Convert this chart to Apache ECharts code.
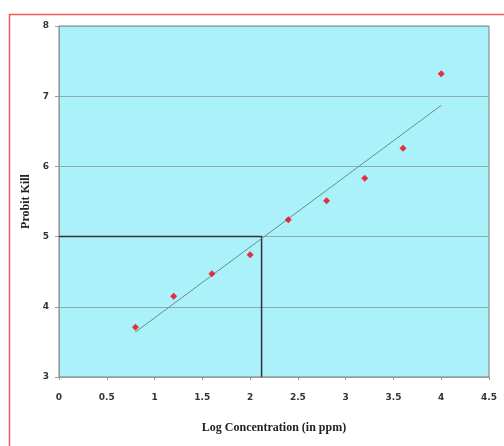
<!DOCTYPE html>
<html><head><meta charset="utf-8">
<script src="https://cdn.jsdelivr.net/npm/echarts@6/dist/echarts.min.js"></script>
<style>html,body{margin:0;padding:0;background:#fff}#c{width:504px;height:446px}</style>
</head><body><div id="c"></div>
<script>
const logConc = [0.8, 1.2, 1.6, 2.0, 2.4, 2.8, 3.2, 3.6, 4.0];
const probitKill = [3.71, 4.15, 4.47, 4.74, 5.24, 5.51, 5.83, 6.26, 7.32];
const trendX = [0.8, 4.0];
const trendY = [3.64, 6.87];
const refX = [0, 2.12, 2.12];
const refY = [5, 5, 3];

const chart = echarts.init(document.getElementById('c'));
const zip = (a, b) => a.map((v, i) => [v, b[i]]);
chart.setOption({
  animation: false,
  backgroundColor: '#fff',
  graphic: [{
    type: 'rect', left: 7, top: 12, shape: { width: 600, height: 500 },
    style: { fill: 'none', stroke: '#f55', lineWidth: 1.5 }, z: -10
  }],
  grid: {
    left: 59, top: 26, width: 430, height: 351,
    show: true, backgroundColor: '#aaf1fa', borderColor: '#7a7a7a', borderWidth: 1
  },
  xAxis: {
    type: 'value', min: 0, max: 4.5, interval: 0.5,
    name: 'Log Concentration (in ppm)', nameLocation: 'middle', nameGap: 45,
    nameTextStyle: { fontFamily: 'Liberation Serif', fontWeight: 'bold', fontSize: 12, color: '#222' },
    axisLine: { show: true, lineStyle: { color: '#999' } },
    axisTick: { show: true, length: 3, lineStyle: { color: '#999' } },
    axisLabel: { margin: 16, fontFamily: 'DejaVu Sans', fontWeight: 'bold', fontSize: 9, color: '#333' },
    splitLine: { show: false }
  },
  yAxis: {
    type: 'value', min: 3, max: 8, interval: 1,
    name: 'Probit Kill', nameLocation: 'middle', nameGap: 24,
    nameTextStyle: { fontFamily: 'Liberation Serif', fontWeight: 'bold', fontSize: 12, color: '#222' },
    axisLine: { show: true, lineStyle: { color: '#999' } },
    axisTick: { show: true, length: 4, lineStyle: { color: '#999' } },
    axisLabel: { margin: 10, fontFamily: 'DejaVu Sans', fontWeight: 'bold', fontSize: 9, color: '#333' },
    splitLine: { show: true, lineStyle: { color: '#8aacb0', width: 1 } }
  },
  series: [
    {
      type: 'line', data: zip(refX, refY), symbol: 'none',
      lineStyle: { color: '#333', width: 1.5 }, z: 2
    },
    {
      type: 'line', data: zip(trendX, trendY), symbol: 'none',
      lineStyle: { color: '#6b8a8f', width: 1 }, z: 3
    },
    {
      type: 'scatter', data: zip(logConc, probitKill), symbol: 'diamond', symbolSize: 7,
      itemStyle: { color: '#f00010' }, z: 4
    }
  ]
});
</script></body></html>
